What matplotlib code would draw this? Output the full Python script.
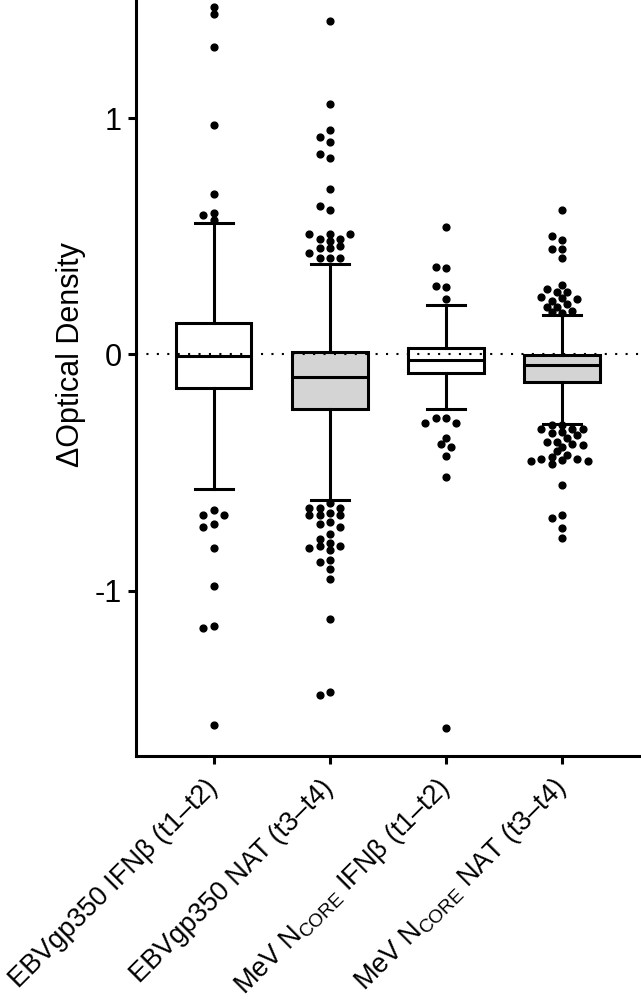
import numpy as np
import matplotlib
matplotlib.use("Agg")
import matplotlib.pyplot as plt

plt.rcParams['font.family'] = ['Liberation Sans', 'DejaVu Sans']
plt.rcParams['mathtext.fontset'] = 'custom'
plt.rcParams['mathtext.rm'] = 'Liberation Sans'

labels = ["EBVgp350 IFN\u03b2 (t1\u2013t2)",
          "EBVgp350 NAT (t3\u2013t4)",
          "MeV N$_\\mathregular{CORE}$ IFN\u03b2 (t1\u2013t2)",
          "MeV N$_\\mathregular{CORE}$ NAT (t3\u2013t4)"]
box_fill = ['white', '#d4d4d4', 'white', '#d4d4d4']

# box stats
q1 = [-0.141, -0.233, -0.080, -0.116]
med = [-0.008, -0.096, -0.022, -0.045]
q3 = [0.134, 0.011, 0.028, -0.004]
whis_lo = [-0.568, -0.617, -0.230, -0.293]
whis_hi = [0.557, 0.381, 0.210, 0.166]

out_ebv_ifn = [1.47, 1.44, 1.30, 0.97, 0.68, 0.60, 0.59, 0.57,
               -0.66, -0.68, -0.68, -0.72, -0.73, -0.82, -0.98, -1.15, -1.16, -1.57]
out_ebv_nat = [1.41, 1.06, 0.95, 0.92, 0.90, 0.85, 0.83, 0.70, 0.63, 0.61,
               0.51, 0.51, 0.51, 0.49, 0.49, 0.48, 0.46, 0.45, 0.45, 0.43, 0.41, 0.41, 0.41,
               -0.63, -0.65, -0.65, -0.65, -0.67, -0.68, -0.68, -0.68, -0.71, -0.72,
               -0.73, -0.76, -0.78, -0.80, -0.81, -0.81, -0.82, -0.83, -0.87, -0.88,
               -0.91, -0.95, -1.12, -1.43, -1.44]
out_mev_ifn = [0.54, 0.37, 0.365, 0.29, 0.285, 0.235,
               -0.27, -0.27, -0.29, -0.29, -0.355, -0.38, -0.39, -0.43, -0.52, -1.58]
out_mev_nat = [0.61, 0.50, 0.485, 0.445, 0.445, 0.41,
               0.293, 0.275, 0.263, 0.262, 0.242, 0.238, 0.233, 0.227, 0.213,
               0.202, 0.202, 0.183, 0.179, 0.176,
               -0.298, -0.300, -0.315, -0.315, -0.315, -0.329, -0.334, -0.341, -0.353,
               -0.369, -0.369, -0.379, -0.384, -0.39, -0.411, -0.425, -0.435, -0.444,
               -0.444, -0.448, -0.451, -0.451, -0.465, -0.554, -0.681, -0.693, -0.736, -0.779]
outliers = [out_ebv_ifn, out_ebv_nat, out_mev_ifn, out_mev_nat]


def swarm_offsets(ax, vals, center, step_px=10.3, diam_px=7.0):
    # simple beeswarm on a half-step grid, working in pixels
    vals = np.asarray(vals, float)
    order = np.argsort(np.abs(vals))
    pts = ax.transData.transform(np.column_stack([np.full(len(vals), center), vals]))
    cx = pts[0, 0]
    placed = []
    xs = np.zeros(len(vals))
    cands = [0.0]
    for k in range(1, 12):
        cands += [-0.5 * k, 0.5 * k]
    for i in order:
        yp = pts[i, 1]
        for c in cands:
            xp = cx + c * step_px
            if all((xp - a) ** 2 + (yp - b) ** 2 >= diam_px ** 2 for a, b in placed):
                break
        placed.append((xp, yp))
        xs[i] = xp
    back = ax.transData.inverted().transform(np.column_stack([xs, pts[:, 1]]))
    return back[:, 0]


fig = plt.figure(figsize=(6.41, 10.06), dpi=100)
ax = fig.add_axes([0.212, 0.2485, 0.788, 0.7515])
ax.set_xlim(-0.67, 3.68)
ax.set_ylim(-1.70, 1.50)

lw = 2.2
stats = []
for i in range(4):
    stats.append(dict(med=med[i], q1=q1[i], q3=q3[i], whislo=whis_lo[i],
                      whishi=whis_hi[i], fliers=[]))
bp = ax.bxp(stats, positions=range(4), widths=0.65, capwidths=0.33,
            showfliers=False, patch_artist=True,
            boxprops=dict(linewidth=lw, edgecolor='black'),
            medianprops=dict(linewidth=lw, color='black'),
            whiskerprops=dict(linewidth=lw, color='black'),
            capprops=dict(linewidth=lw, color='black'))
for patch, c in zip(bp['boxes'], box_fill):
    patch.set_facecolor(c)

ax.axhline(0, color='black', linestyle=(0, (1, 4)), linewidth=1.5, zorder=5)

for i, vals in enumerate(outliers):
    xs = swarm_offsets(ax, vals, i)
    ax.plot(xs, vals, 'o', color='black', markersize=4.9, zorder=6, clip_on=False)

ax.spines['top'].set_visible(False)
ax.spines['right'].set_visible(False)
ax.spines['left'].set_linewidth(lw)
ax.spines['bottom'].set_linewidth(lw)

ax.set_yticks([-1, 0, 1], labels=['-1', '0', '1'])
ax.tick_params(axis='y', length=6, width=lw, labelsize=22, pad=4)
ax.set_xticks(range(4))
ax.set_xticklabels(labels, rotation=45, ha='right', va='center',
                   rotation_mode='anchor', fontsize=19.5)
ax.tick_params(axis='x', length=6, width=lw, pad=14)
ax.set_ylabel('\u0394Optical Density', fontsize=22)
ax.yaxis.set_label_coords(-0.098, 0.531)

fig.savefig('out.png', dpi=100)
